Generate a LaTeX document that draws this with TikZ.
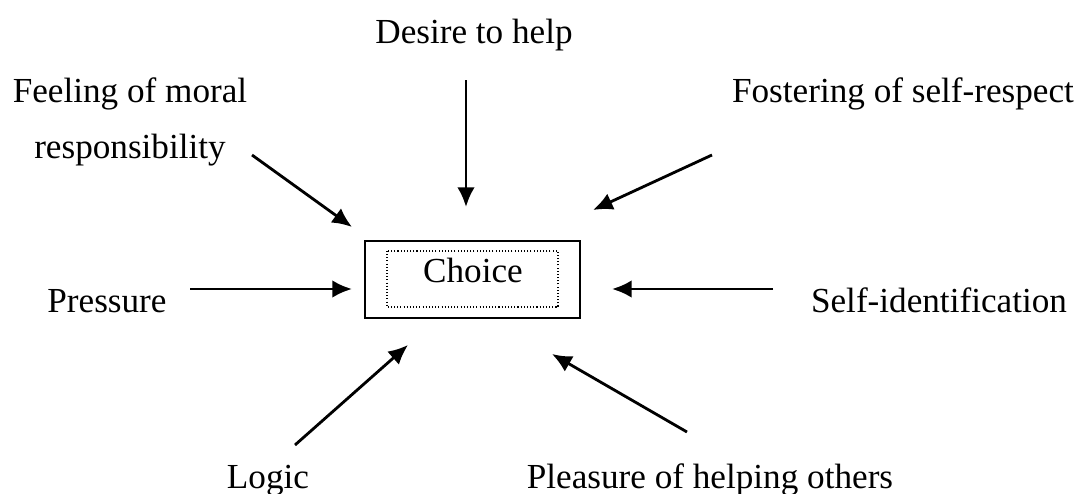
\documentclass[tikz,border=0pt]{standalone}
\usepackage{fontspec}
\setmainfont{Liberation Serif}
\usetikzlibrary{arrows.meta, calc}

\tikzset{
    cause/.style={anchor=base, font=\fontsize{10}{16.2}\selectfont, inner sep=0pt},
    push/.style={-{Latex[length=5.6pt,width=5pt]}, line width=0.8pt},
}

\begin{document}
\begin{tikzpicture}[x=0.01cm, y=-0.01cm]
    \useasboundingbox (0,0) rectangle (1084,494);

    % central box
    \node[draw, line width=0.6pt, minimum width=2.15cm, minimum height=0.77cm, inner sep=0pt] (choice) at (472.5,279.5) {};
    \draw[line width=0.4pt, dash pattern=on 0.3pt off 0.6pt] ([xshift=0.23cm,yshift=-0.11cm]choice.north west) rectangle ([xshift=-0.23cm,yshift=0.12cm]choice.south east);
    \node[cause] (choicetext) at (473,282) {Choice};

    % influences
    \node[cause] (desire) at (474,44) {Desire to help};
    \node[cause, align=center] (feeling) at (130,159) {Feeling of moral\\responsibility};
    \node[cause] (fostering) at (903,102) {Fostering of self-respect};
    \node[cause] (pressure) at (107,312) {Pressure};
    \node[cause] (selfid) at (939,312) {Self-identification};
    \node[cause] (logic) at (268,488) {Logic};
    \node[cause] (pleasure) at (710,488) {Pleasure of helping others};

    % arrow ends
    \coordinate (desire-t) at (466,80);     \coordinate (desire-h) at (466,207);
    \coordinate (feeling-t) at (252,155);   \coordinate (feeling-h) at (352,227);
    \coordinate (fostering-t) at (712,155); \coordinate (fostering-h) at (593,210);
    \coordinate (pressure-t) at (190,289);  \coordinate (pressure-h) at (352,289);
    \coordinate (selfid-t) at (773,289);    \coordinate (selfid-h) at (612,289);
    \coordinate (logic-t) at (295,445);     \coordinate (logic-h) at (408,345);
    \coordinate (pleasure-t) at (687,432);  \coordinate (pleasure-h) at (552,354);

    \foreach \c in {desire, feeling, fostering, pressure, selfid, logic, pleasure} {
        \draw[push] (\c-t) -- (\c-h);
    }
\end{tikzpicture}
\end{document}
